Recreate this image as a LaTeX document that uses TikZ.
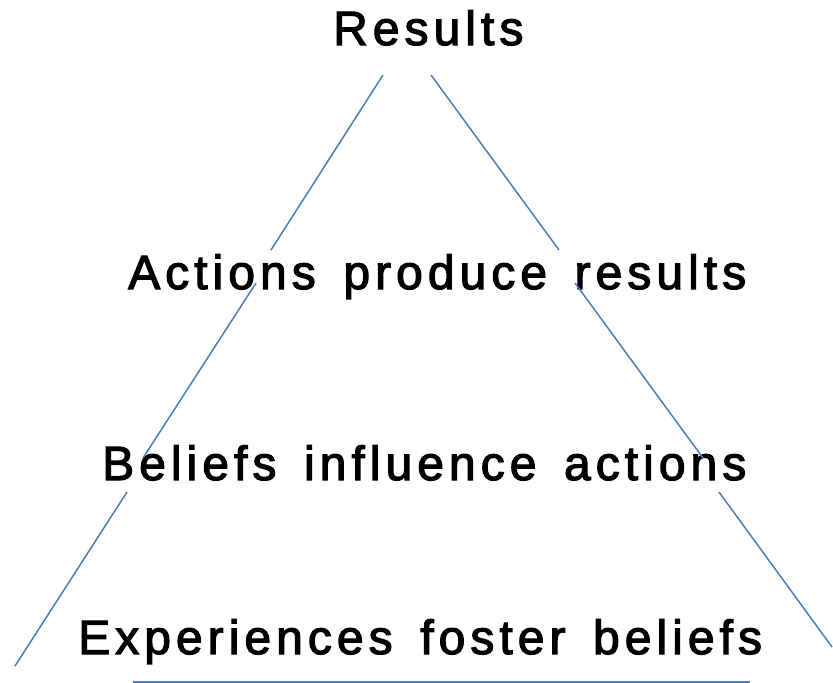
\documentclass[tikz,border=0pt]{standalone}
\usepackage{fontspec}
\setmainfont[LetterSpace=10.5,WordSpace=1.5,FakeBold=2.5]{Liberation Sans}
\definecolor{lineblue}{HTML}{4A7EBB}
\begin{document}
\begin{tikzpicture}[x=1pt,y=-1pt,
  edge/.style={draw=lineblue,line width=1.5pt},
  label/.style={anchor=base west,inner sep=0pt,font=\fontsize{48}{56}\selectfont}]
\useasboundingbox (0,0) rectangle (833,683);
\node[label] (res) at (333,45) {Results};
\node[label] (act) at (128,289) {Actions produce results};
\node[label] (bel) at (102,480) {Beliefs influence actions};
\node[label] (exp) at (78,654) {Experiences foster beliefs};
% left side
\coordinate (l1) at (383,75); \coordinate (l2) at (271,250);
\coordinate (l3) at (256,283); \coordinate (l4) at (143,458);
\coordinate (l5) at (127,492); \coordinate (l6) at (15,666);
% right side
\coordinate (r1) at (431,75); \coordinate (r2) at (559,250);
\coordinate (r3) at (575,283); \coordinate (r4) at (703,458);
\coordinate (r5) at (719,492); \coordinate (r6) at (832,647);
% bottom
\coordinate (b1) at (133,682); \coordinate (b2) at (750,682);
\draw[edge] (l1) -- (l2);
\draw[edge] (l3) -- (l4);
\draw[edge] (l5) -- (l6);
\draw[edge] (r1) -- (r2);
\draw[edge] (r3) -- (r4);
\draw[edge] (r5) -- (r6);
\draw[edge] (b1) -- (b2);
\end{tikzpicture}
\end{document}
